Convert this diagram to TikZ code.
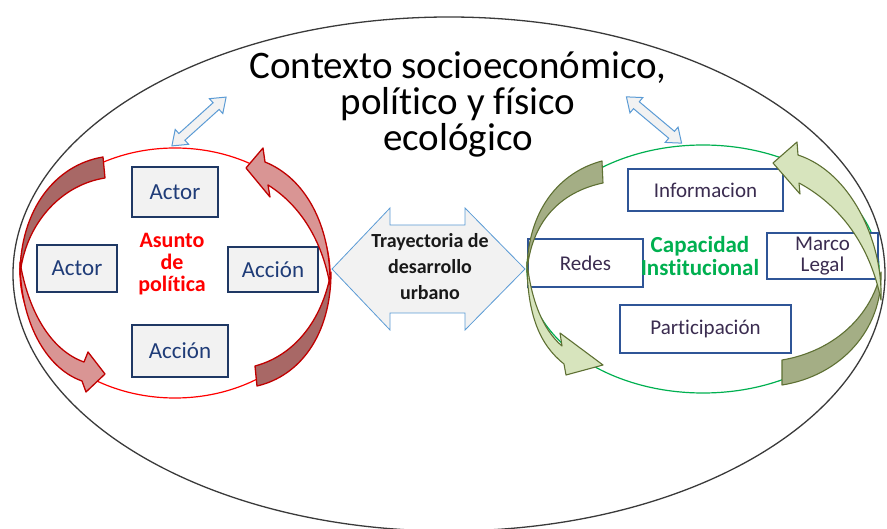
\documentclass[tikz,border=0pt]{standalone}
\usepackage{fontspec}
\setmainfont{Carlito}[Ligatures=NoCommon]
\definecolor{redring}{HTML}{FF0000}
\definecolor{greenring}{HTML}{00B050}
\definecolor{reddark}{HTML}{A86866}
\definecolor{redlight}{HTML}{D99594}
\definecolor{rededge}{HTML}{C00000}
\definecolor{grndark}{HTML}{A4AE85}
\definecolor{grnlight}{HTML}{D7E4BD}
\definecolor{grnedge}{HTML}{5E7033}
\definecolor{boxfill}{HTML}{F2F2F2}
\definecolor{navyedge}{HTML}{1F3864}
\definecolor{blueedge}{HTML}{2F5597}
\definecolor{navytext}{HTML}{1F3C78}
\definecolor{purpletext}{HTML}{3B2C50}
\definecolor{arrowblue}{HTML}{5B9BD5}
\definecolor{outerline}{HTML}{3A3A3A}
\tikzset{
  leftbox/.style={draw=navyedge, line width=1.4pt, fill=boxfill, inner sep=0pt,
    text=navytext, font=\fontsize{23}{23}\selectfont},
  rightbox/.style={draw=blueedge, line width=1.1pt, fill=white, inner sep=0pt,
    text=purpletext, font=\fontsize{21}{22}\selectfont, align=center},
  redband/.style={draw=rededge, line width=1.3pt, line join=round},
  grnband/.style={draw=grnedge, line width=1.1pt, line join=round},
  blockarrow/.style={draw=arrowblue, line width=1pt, fill=boxfill, line join=miter},
}
\begin{document}
\begin{tikzpicture}[x=1pt,y=-1pt]
\useasboundingbox (0,0) rectangle (887,529);
\clip (0,0) rectangle (887,529);
% outer context ellipse
\draw[outerline, line width=1.3pt] (449,274) ellipse [x radius=436, y radius=257];
% inner rings
\draw[redring, line width=1.2pt] (175,273) ellipse [x radius=155, y radius=125];
\draw[greenring, line width=1.2pt] (703,269) ellipse [x radius=176, y radius=124];

% boxes left
\node[leftbox, minimum width=86pt, minimum height=50pt] (actA) at (175,192) {Actor};
\node[leftbox, minimum width=80pt, minimum height=47pt] (actB) at (77,268.5) {Actor};
\node[leftbox, minimum width=90pt, minimum height=45pt] (accA) at (273,269.5) {Acción};
\node[leftbox, minimum width=96pt, minimum height=52pt] (accB) at (180,351) {Acción};
% boxes right
\node[rightbox, minimum width=155pt, minimum height=42pt] (info) at (705.5,190) {Informacion};
\node[rightbox, minimum width=115pt, minimum height=48pt] (redes) at (585.5,263) {Redes};
\node[rightbox, minimum width=111pt, minimum height=46pt] (marco) at (822.5,256) {Marco\\[-1pt]Legal};
\node[rightbox, minimum width=171pt, minimum height=48pt] (partic) at (705.5,329) {Participación};

% red curved arrows
\fill[reddark, redband] (103,157) .. controls (55,165) and (20,210) .. (20,275)
   .. controls (25,225) and (60,185) .. (105,178) -- cycle;
\fill[redlight, redband] (20,262) .. controls (20,320) and (45,368) .. (82,381)
   -- (86,392) -- (105,374) -- (88,352) -- (84,362)
   .. controls (50,350) and (28,310) .. (20,262) -- cycle;
\fill[reddark, redband] (331,272) .. controls (331,335) and (300,376) .. (257,386)
   -- (255,366) .. controls (293,356) and (322,322) .. (331,272) -- cycle;
\fill[redlight, redband] (330,285) .. controls (331,225) and (305,178) .. (265,162)
   -- (263,148) -- (246,168) -- (270,197) -- (268,185)
   .. controls (300,205) and (322,240) .. (330,285) -- cycle;

% green curved arrows
\fill[grndark, grnband] (602,161) .. controls (560,172) and (527,210) .. (527,272)
   .. controls (531,222) and (560,192) .. (603,183) -- cycle;
\fill[grnlight, grnband] (527,262) .. controls (527,315) and (540,345) .. (564,364)
   -- (566,375) -- (603,365) -- (560,333) -- (562,346)
   .. controls (543,330) and (531,300) .. (527,262) -- cycle;
\fill[grndark, grnband] (881,272) .. controls (883,330) and (840,376) .. (782,385)
   -- (782,360) .. controls (830,352) and (870,320) .. (881,272) -- cycle;
\fill[grnlight, grnband] (881,300) .. controls (883,240) and (850,172) .. (798,155)
   -- (797,142) -- (773,163) -- (800,194) -- (799,183)
   .. controls (840,205) and (870,245) .. (881,300) -- cycle;

% central labels
\node[text=red, font=\bfseries\fontsize{22}{22}\selectfont, align=center] (asunto) at (172,264) {Asunto\\de\\política};
\node[text=greenring, font=\bfseries\fontsize{23}{23}\selectfont, align=center] (capac) at (700,256) {Capacidad\\Institucional};

% middle double arrow
\draw[blockarrow, line width=0.8pt] (332,269) -- (390,208) -- (390,225) -- (465,225) -- (465,208)
   -- (525,269) -- (465,330) -- (465,313) -- (390,313) -- (390,330) -- cycle;
\node[text=black!90, font=\bfseries\fontsize{20}{26}\selectfont, align=center] (tray) at (430,267)
   {Trayectoria de\\desarrollo\\urbano};

% top double arrows
\begin{scope}[shift={(199,121.5)}, rotate=42]
\draw[blockarrow] (-36.5,0) -- (-23,10) -- (-23,4.5) -- (23,4.5) -- (23,10) -- (36.5,0)
   -- (23,-10) -- (23,-4.5) -- (-23,-4.5) -- (-23,-10) -- cycle;
\end{scope}
\begin{scope}[shift={(654,120)}, rotate=-40]
\draw[blockarrow] (-36,0) -- (-23,10) -- (-23,4.5) -- (23,4.5) -- (23,10) -- (36,0)
   -- (23,-10) -- (23,-4.5) -- (-23,-4.5) -- (-23,-10) -- cycle;
\end{scope}

% title
\node[font=\fontsize{39}{36}\selectfont, align=center, inner sep=0pt] (title) at (458,104)
  {Contexto socioeconómico,\\político y físico\\ecológico};
\end{tikzpicture}
\end{document}
